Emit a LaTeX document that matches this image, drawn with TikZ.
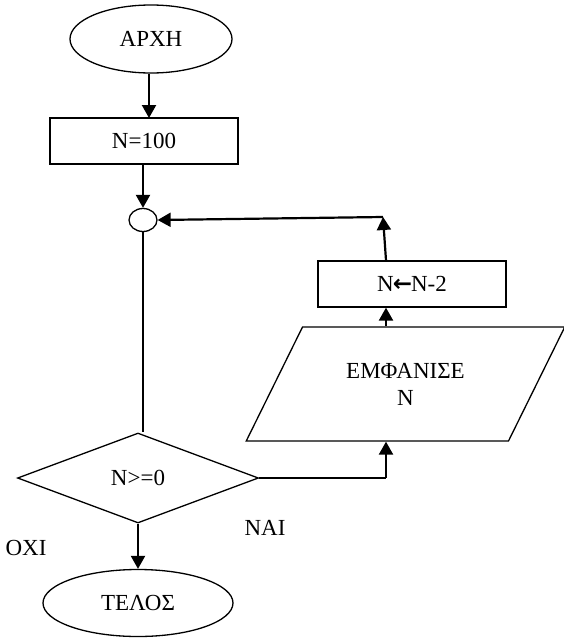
\documentclass[tikz,border=0pt]{standalone}
\usepackage{fontspec}
\setmainfont{Liberation Serif}
\usetikzlibrary{shapes.geometric,arrows.meta}

\begin{document}
\begin{tikzpicture}[x=1pt,y=-1pt,>={Triangle[length=13pt,width=14pt]},
  every node/.style={font=\fontsize{23}{27}\selectfont},
  box/.style={draw,line width=1.3pt,minimum width=188pt,minimum height=46pt,inner sep=0pt},
  term/.style={draw,ellipse,line width=1.3pt,inner sep=0pt},
  flow/.style={->,line width=2.2pt}]
\useasboundingbox (0,0) rectangle (563,640);
% shapes
\node[term,minimum width=162pt,minimum height=68pt] (start) at (151,39) {ΑΡΧΗ};
\node[box] (init) at (144,141) {N=100};
\node[term,minimum width=28pt,minimum height=23pt] (join) at (143,220) {};
\node[draw,diamond,aspect=2.68,minimum width=241pt,minimum height=90pt,
  line width=1.3pt,inner sep=0pt] (test) at (138,478) {N>=0};
\node[draw,trapezium,trapezium left angle=55,trapezium right angle=125,
  trapezium stretches=true,minimum width=319pt,minimum height=114pt,
  line width=1.3pt,align=center] (show) at (405.5,384) {ΕΜΦΑΝΙΣΕ\\N};
\node[box] (dec) at (412,284) {N{\fontspec{DejaVu Sans Bold}\kern-1pt\char"2190\kern-1pt}N-2};
\node[term,minimum width=190pt,minimum height=67pt] (stop) at (138,603) {ΤΕΛΟΣ};
\node (no) at (26,548) {ΟΧΙ};
\node (yes) at (265,528) {ΝΑΙ};
\coordinate (turn) at (386,478);
\coordinate (back) at (383,217);
% connectors
\draw[flow] (start.south -| 149,0) -- (149,118);
\draw[flow] (join |- init.south) -- (join.north);
\draw[line width=2.2pt] (join.south) -- (join.south |- test.north);
\draw[line width=2.2pt] (test.east) -- (turn);
\draw[flow] (turn) -- (turn |- show.south);
\draw[flow] (turn |- show.north) -- (turn |- dec.south);
\draw[flow] (turn |- dec.north) -- (back);
\draw[flow] (back) -- (join.east);
\draw[flow] (test.south) -- (stop.north);
\end{tikzpicture}
\end{document}
